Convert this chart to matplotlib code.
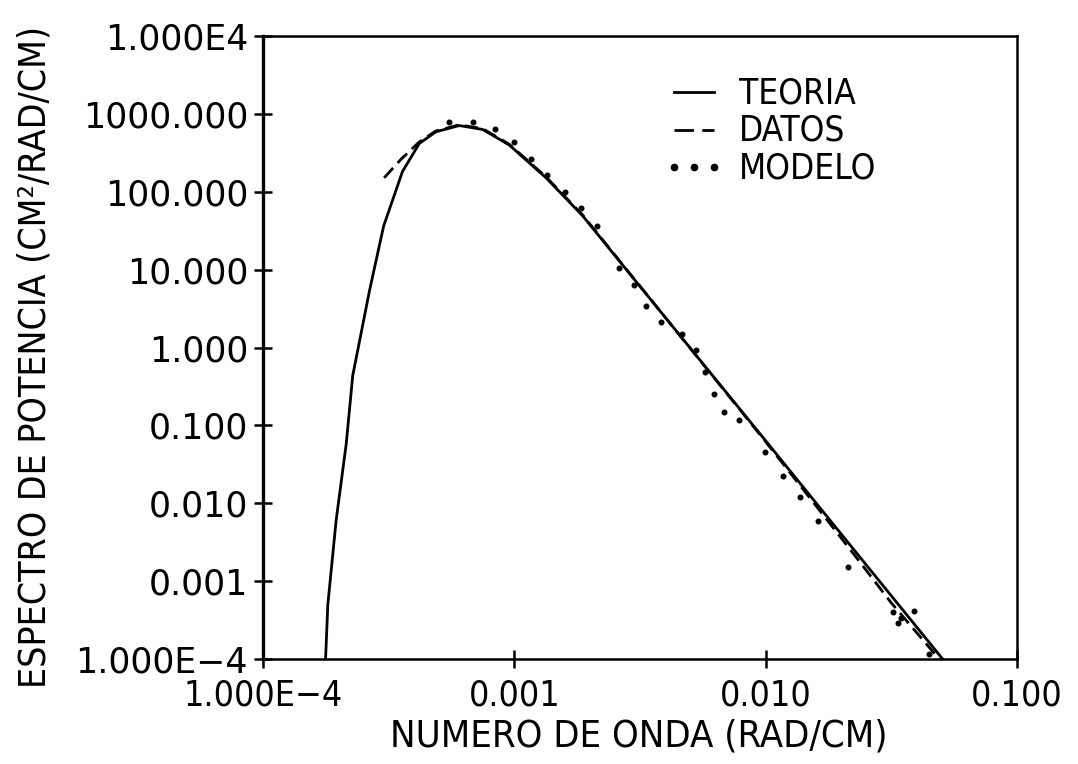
import matplotlib
matplotlib.use("Agg")
import matplotlib.pyplot as plt
from matplotlib import font_manager as fm
from matplotlib.ticker import NullLocator, FixedLocator, FixedFormatter
from matplotlib.lines import Line2D

# ---------------- data ----------------
teoria_k = [1.774e-4, 1.811e-4, 1.954e-4, 2.143e-4, 2.275e-4, 2.421e-4, 2.649e-4,
            3.020e-4, 3.589e-4, 4.188e-4, 4.875e-4, 6.039e-4, 7.482e-4, 9.550e-4,
            1.337e-3, 1.871e-3, 2.958e-3, 9.840e-3, 2.249e-2, 5.058e-2]
teoria_s = [1.0e-4, 5.0e-4, 6.0e-3, 5.75e-2, 0.436, 1.20, 5.25,
            36.3, 182.0, 417.0, 589.0, 708.0, 631.0, 398.0,
            151.0, 49.0, 7.94, 0.0676, 2.51e-3, 1.0e-4]

datos_k = [3.034e-4, 3.548e-4, 4.188e-4, 4.875e-4, 6.04e-4, 7.48e-4, 9.55e-4,
           1.337e-3, 1.871e-3, 2.958e-3, 9.84e-3, 1.585e-2, 2.249e-2, 3.162e-2, 4.9e-2]
datos_s = [151.0, 263.0, 437.0, 603.0, 724.0, 646.0, 407.0,
           155.0, 50.1, 8.0, 0.066, 9.3e-3, 2.19e-3, 5.25e-4, 1.0e-4]

modelo_k = [5.51e-4, 6.82e-4, 8.39e-4, 1.0e-3, 1.167e-3, 1.349e-3, 1.585e-3,
            1.849e-3, 2.123e-3, 2.606e-3, 2.985e-3, 3.327e-3, 3.819e-3, 4.656e-3,
            5.26e-3, 5.73e-3, 6.22e-3, 6.82e-3, 7.83e-3, 9.93e-3, 1.167e-2,
            1.365e-2, 1.614e-2, 2.128e-2, 3.199e-2, 3.365e-2, 3.45e-2, 3.90e-2, 4.48e-2]
modelo_s = [775.0, 798.0, 646.0, 435.0, 267.0, 163.0, 99.0,
            62.5, 36.5, 10.35, 6.31, 3.43, 2.14, 1.47,
            0.927, 0.488, 0.252, 0.150, 0.117, 0.0458, 0.0223,
            0.0121, 5.96e-3, 1.50e-3, 4.05e-4, 2.88e-4, 3.33e-4, 4.17e-4, 1.15e-4]

x_ticks = [1e-4, 1e-3, 1e-2, 1e-1]
x_ticklabels = ["1.000E\u22124", "0.001", "0.010", "0.100"]
y_ticks = [1e-4, 1e-3, 1e-2, 1e-1, 1e0, 1e1, 1e2, 1e3, 1e4]
y_ticklabels = ["1.000E\u22124", "0.001", "0.010", "0.100", "1.000",
                "10.000", "100.000", "1000.000", "1.000E4"]

legend_labels = ["TEORIA", "DATOS", "MODELO"]
x_label = "NUMERO DE ONDA (RAD/CM)"
y_label = "ESPECTRO DE POTENCIA (CM\u00b2/RAD/CM)"

# ---------------- fonts ----------------
def pick_font(cands):
    for fam, stretch in cands:
        try:
            path = fm.findfont(fm.FontProperties(family=fam, stretch=stretch),
                               fallback_to_default=False)
            if stretch == 'condensed' and 'Condensed' not in path:
                continue
            return fam, stretch
        except Exception:
            pass
    return 'DejaVu Sans', 'normal'

cond_fam, cond_stretch = pick_font([('Liberation Sans Narrow', 'normal'),
                                    ('DejaVu Sans', 'condensed'),
                                    ('Roboto Condensed', 'normal')])

plt.rcParams['font.family'] = ['DejaVu Sans']

W, H = 1078, 764
fig = plt.figure(figsize=(W / 100, H / 100), dpi=100)
L, R, T, B = 263, 1017, 36, 659
ax = fig.add_axes([L / W, 1 - B / H, (R - L) / W, (B - T) / H])
ax.set_xscale('log')
ax.set_yscale('log')
ax.set_xlim(1e-4, 0.1)
ax.set_ylim(1e-4, 1e4)

lw = 2.0
ax.plot(teoria_k, teoria_s, color='black', lw=lw)
ax.plot(datos_k, datos_s, color='black', lw=lw, dashes=(4.8, 2.4))
ax.plot(modelo_k, modelo_s, linestyle='none', marker='o', markersize=3.3,
        color='black')

# ticks
ax.xaxis.set_major_locator(FixedLocator(x_ticks))
ax.xaxis.set_major_formatter(FixedFormatter(x_ticklabels))
ax.yaxis.set_major_locator(FixedLocator(y_ticks))
ax.yaxis.set_major_formatter(FixedFormatter(y_ticklabels))
ax.xaxis.set_minor_locator(NullLocator())
ax.yaxis.set_minor_locator(NullLocator())
ax.tick_params(axis='both', which='major', direction='inout', length=12.5,
               width=1.8, color='black')
ax.tick_params(axis='y', pad=4.5, labelsize=25)
ax.tick_params(axis='x', pad=8, labelsize=23)
for lab in ax.get_xticklabels():
    lab.set_family(cond_fam)
    lab.set_stretch(cond_stretch)

for side in ['top', 'right', 'bottom']:
    ax.spines[side].set_linewidth(1.8)
ax.spines['left'].set_linewidth(2.4)

# axis labels
ax.set_xlabel(x_label, fontsize=25, family=cond_fam, stretch=cond_stretch)
ax.set_ylabel(y_label, fontsize=25, family=cond_fam, stretch=cond_stretch)
ax.xaxis.label.set_va('center')
ax.yaxis.label.set_va('center')
ax.yaxis.label.set_ha('center')
ax.xaxis.set_label_coords((639 - L) / (R - L), (B - 736) / (B - T))
ax.yaxis.set_label_coords((35 - L) / (R - L), (B - 357) / (B - T))

# legend (proxy handles)
handles = [Line2D([], [], color='black', lw=lw),
           Line2D([], [], color='black', lw=lw, dashes=(7, 3)),
           Line2D([], [], color='black', linestyle='none', marker='o',
                  markersize=4.5)]
leg = ax.legend(handles, legend_labels, loc='upper left',
                bbox_to_anchor=(664 / W, 1 - 76 / H),
                bbox_transform=fig.transFigure, frameon=False, borderpad=0,
                borderaxespad=0, handlelength=1.85, handletextpad=0.5,
                labelspacing=0.12, numpoints=3,
                prop=fm.FontProperties(family=cond_fam, stretch=cond_stretch,
                                       size=23))

# fit text widths to the reference
fig.canvas.draw()
rend = fig.canvas.get_renderer()

def fit(text_obj, target, use_height=False):
    bb = text_obj.get_window_extent(rend)
    cur = bb.height if use_height else bb.width
    if cur > 0:
        text_obj.set_fontsize(text_obj.get_fontsize() * target / cur)

fit(ax.xaxis.label, 498)
fit(ax.yaxis.label, 665, use_height=True)

xt = ax.get_xticklabels()
bb = xt[1].get_window_extent(rend)
s = 92 / bb.width
ax.tick_params(axis='x', labelsize=23 * s)
for lab in ax.get_xticklabels():
    lab.set_family(cond_fam)
    lab.set_stretch(cond_stretch)

for t in leg.get_texts():
    if t.get_text() == "TEORIA":
        bb = t.get_window_extent(rend)
        s = 117 / bb.width
        for tt in leg.get_texts():
            tt.set_fontsize(tt.get_fontsize() * s)

fig.savefig("out.png", dpi=100)
